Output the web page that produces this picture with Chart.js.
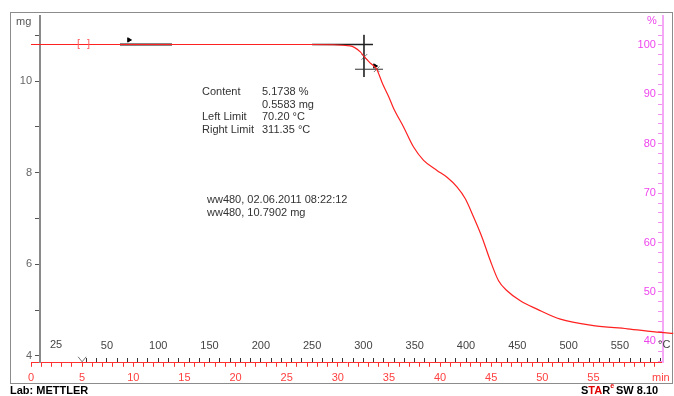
<!DOCTYPE html>
<html lang="en">
<head>
<meta charset="UTF-8">
<title>TGA ww480</title>
<script src="https://cdn.jsdelivr.net/npm/chart.js"></script>
<style>
    body {
        margin: 0;
        padding: 0;
        background-color: #ffffff;
    }
    canvas {
        display: block;
    }
</style>
</head>
<body>
<canvas id="tga-chart" width="674" height="396"></canvas>
<script>
// measured curve, time in min / mass in mg
const timeMin = [0, 5, 10, 15, 20, 25, 27.3, 31.2, 32.2, 32.6, 33.2, 33.8, 34.4, 35.0, 35.45, 36.43, 37.41, 38.39, 39.7, 40.68, 41.65, 42.47, 43.28, 44.1, 44.91, 45.72, 46.55, 47.85, 49.48, 51.76, 54.99, 58.32, 61.55, 62.8];
const massMg = [10.80, 10.80, 10.80, 10.80, 10.80, 10.80, 10.80, 10.77, 10.64, 10.53, 10.39, 10.26, 9.93, 9.65, 9.41, 9.00, 8.56, 8.27, 8.05, 7.90, 7.69, 7.43, 7.03, 6.59, 6.08, 5.64, 5.42, 5.20, 5.02, 4.80, 4.66, 4.59, 4.51, 4.49];

const sampleMass = 10.7902;   // mg = 100 %

// tick labels
const timeLabels = [0, 5, 10, 15, 20, 25, 30, 35, 40, 45, 50, 55];
const tempLabels = [50, 100, 150, 200, 250, 300, 350, 400, 450, 500, 550];
const massLabels = [4, 6, 8, 10];
const pctLabels = [40, 50, 60, 70, 80, 90, 100];

// step evaluation marks (min / mg)
const baseLeft = [{x: 8.70, y: 10.80}, {x: 13.79, y: 10.80}];
const baseRight = [{x: 27.48, y: 10.80}, {x: 33.44, y: 10.80}];
const crossV = [{x: 32.56, y: 11.01}, {x: 32.56, y: 10.09}];
const crossH = [{x: 31.68, y: 10.26}, {x: 34.42, y: 10.26}];
const limitMarks = [{x: 32.6, y: 10.53}, {x: 33.8, y: 10.26}];
const flagMarks = [{x: 9.58, y: 10.90}, {x: 33.64, y: 10.33}];

const tMax = 61.8;
const mgMin = 3.847;
const mgMax = 11.423;
const FONT = 'Liberation Sans, Arial, sans-serif';

const decor = {
    id: 'decor',
    beforeDraw(chart) {
        const ctx = chart.ctx;
        ctx.save();
        ctx.fillStyle = '#ffffff';
        ctx.fillRect(0, 0, chart.width, chart.height);
        ctx.strokeStyle = '#8c8c8c';
        ctx.lineWidth = 1;
        ctx.strokeRect(10.5, 12.5, 662, 371);
        ctx.restore();
    },
    afterDraw(chart) {
        const ctx = chart.ctx;
        const xs = chart.scales.x;
        ctx.save();
        ctx.font = '11px ' + FONT;
        ctx.textBaseline = 'middle';

        ctx.fillStyle = '#555555';
        ctx.fillText('mg', 16, 22);
        ctx.fillStyle = '#444444';
        ctx.fillText('25', 50, 345);
        ctx.fillText('\u00b0C', 658, 345);
        ctx.fillStyle = '#ee44ee';
        ctx.fillText('%', 647, 21);
        ctx.fillStyle = '#ff4040';
        ctx.fillText('min', 652, 378);
        ctx.fillStyle = '#ff6060';
        ctx.fillText('[', 77, 44);
        ctx.fillText(']', 87, 44);

        // evaluation text
        ctx.fillStyle = '#333333';
        const rows = [['Content', '5.1738 %'], ['', '0.5583 mg'], ['Left Limit', '70.20 \u00b0C'], ['Right Limit', '311.35 \u00b0C']];
        rows.forEach((r, i) => {
            ctx.fillText(r[0], 202, 92 + i * 12.7);
            ctx.fillText(r[1], 262, 92 + i * 12.7);
        });
        ctx.fillText('ww480, 02.06.2011 08:22:12', 207, 200);
        ctx.fillText('ww480, 10.7902 mg', 207, 213);

        // segment marker on time axis
        const px = xs.getPixelForValue(5);
        const py = xs.top;
        ctx.strokeStyle = '#777777';
        ctx.beginPath();
        ctx.moveTo(px - 4, py - 6);
        ctx.lineTo(px, py - 1);
        ctx.lineTo(px + 4, py - 6);
        ctx.stroke();

        // footer
        ctx.font = 'bold 11px ' + FONT;
        ctx.fillStyle = '#000000';
        ctx.fillText('Lab: METTLER', 10, 391);
        let x = 581;
        const parts = [['S', '#000000'], ['TA', '#e00000'], ['R', '#000000']];
        parts.forEach(p => {
            ctx.fillStyle = p[1];
            ctx.fillText(p[0], x, 391);
            x += ctx.measureText(p[0]).width;
        });
        ctx.font = 'bold 7px ' + FONT;
        ctx.fillStyle = '#e00000';
        ctx.fillText('e', x, 386);
        x += ctx.measureText('e').width + 2;
        ctx.font = 'bold 11px ' + FONT;
        ctx.fillStyle = '#000000';
        ctx.fillText('SW 8.10', x, 391);
        ctx.restore();
    }
};

const tickFont = {family: FONT, size: 11};

new Chart(document.getElementById('tga-chart').getContext('2d'), {
    type: 'line',
    data: {
        datasets: [
            {
                data: timeMin.map((t, i) => ({x: t, y: massMg[i]})),
                borderColor: '#ff2020',
                borderWidth: 1.2,
                pointRadius: 0,
                cubicInterpolationMode: 'monotone',
                clip: false,
                xAxisID: 'x',
                yAxisID: 'y'
            },
            {data: baseLeft, borderColor: '#111111', borderWidth: 2, pointRadius: 0, xAxisID: 'x', yAxisID: 'y'},
            {data: baseRight, borderColor: '#222222', borderWidth: 1.3, pointRadius: 0, xAxisID: 'x', yAxisID: 'y'},
            {data: crossV, borderColor: '#333333', borderWidth: 1, pointRadius: 0, xAxisID: 'x', yAxisID: 'y'},
            {data: crossH, borderColor: '#333333', borderWidth: 1, pointRadius: 0, xAxisID: 'x', yAxisID: 'y'},
            {data: limitMarks, showLine: false, pointStyle: 'crossRot', pointRadius: 4, borderColor: '#777777', borderWidth: 1, xAxisID: 'x', yAxisID: 'y'},
            {data: flagMarks, showLine: false, pointStyle: 'triangle', pointRadius: 2.5, rotation: 90, backgroundColor: '#000000', borderColor: '#000000', xAxisID: 'x', yAxisID: 'y'}
        ]
    },
    options: {
        responsive: false,
        animation: false,
        layout: {padding: {left: 31, right: 11, top: 16, bottom: 6}},
        plugins: {legend: {display: false}, tooltip: {enabled: false}},
        scales: {
            x: {
                type: 'linear',
                position: 'bottom',
                min: 0,
                max: tMax,
                border: {color: '#ff3030', width: 1},
                grid: {drawOnChartArea: false, color: '#ff3030', tickLength: 4},
                ticks: {
                    stepSize: 1, autoSkip: false, maxRotation: 0, includeBounds: false, padding: 5,
                    color: '#ff4040', font: tickFont,
                    callback: v => timeLabels.includes(Math.round(v * 100) / 100) ? v : ''
                }
            },
            temp: {
                axis: 'x',
                type: 'linear',
                position: {y: mgMin},
                min: -24,
                max: 592,
                border: {display: false},
                grid: {drawOnChartArea: false, color: '#333333', tickLength: -5},
                ticks: {
                    stepSize: 10, autoSkip: false, maxRotation: 0, includeBounds: false, padding: -18,
                    color: '#444444', font: tickFont,
                    callback: v => tempLabels.includes(Math.round(v)) ? Math.round(v) : ''
                },
                afterBuildTicks: s => { s.ticks = s.ticks.filter(t => t.value >= 30); }
            },
            y: {
                type: 'linear',
                position: {x: 0.88},
                min: mgMin,
                max: mgMax,
                border: {color: '#8a8a8a', width: 2},
                grid: {drawOnChartArea: false, color: '#555555', tickLength: 4},
                ticks: {display: false, stepSize: 1, autoSkip: false, includeBounds: false}
            },
            yLab: {
                axis: 'y',
                type: 'linear',
                position: {x: 0.1},
                min: mgMin,
                max: mgMax,
                border: {display: false},
                grid: {display: false},
                ticks: {
                    stepSize: 1, autoSkip: false, includeBounds: false,
                    color: '#666666', font: tickFont,
                    callback: v => massLabels.includes(Math.round(v)) ? Math.round(v) : ''
                }
            },
            pct: {
                axis: 'y',
                type: 'linear',
                position: {x: tMax},
                min: mgMin / sampleMass * 100,
                max: mgMax / sampleMass * 100,
                border: {color: '#f5a8f5', width: 2},
                grid: {drawOnChartArea: false, color: '#f090f0', tickLength: 4},
                ticks: {display: false, stepSize: 2, autoSkip: false, includeBounds: false}
            },
            pctLab: {
                axis: 'y',
                type: 'linear',
                position: {x: 61.11},
                min: mgMin / sampleMass * 100,
                max: mgMax / sampleMass * 100,
                border: {display: false},
                grid: {display: false},
                ticks: {
                    stepSize: 2, autoSkip: false, includeBounds: false,
                    color: '#ee44ee', font: tickFont,
                    callback: v => pctLabels.includes(Math.round(v)) ? Math.round(v) : ''
                }
            }
        }
    },
    plugins: [decor]
});
</script>
</body>
</html>
